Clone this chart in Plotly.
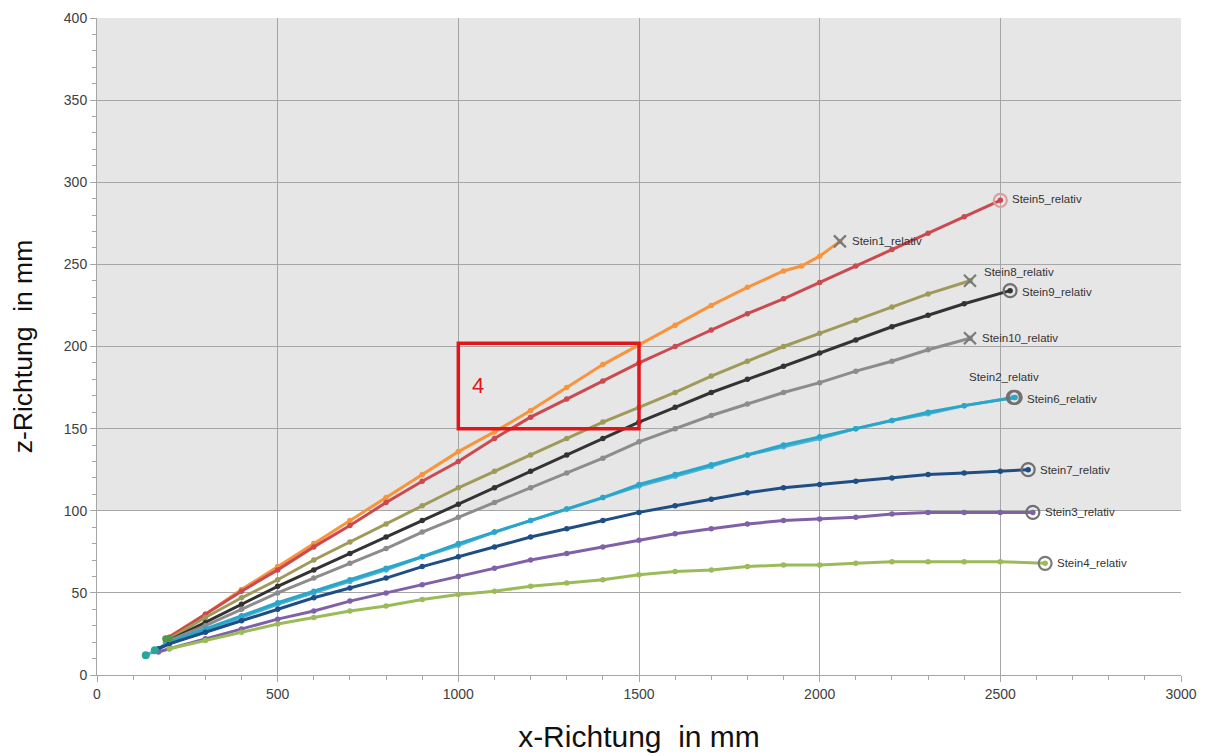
import plotly.graph_objects as go

# ---------------- data ----------------
names = ["Stein1_relativ", "Stein5_relativ", "Stein8_relativ", "Stein9_relativ",
         "Stein10_relativ", "Stein2_relativ", "Stein6_relativ", "Stein7_relativ",
         "Stein3_relativ", "Stein4_relativ"]

stein1_x = [190, 300, 400, 500, 600, 700, 800, 900, 1000, 1100, 1200, 1300, 1400, 1500, 1600, 1700, 1800, 1900, 1950, 2000, 2056]
stein1_y = [22, 37, 52, 66, 80, 94, 108, 122, 136, 148, 161, 175, 189, 201, 213, 225, 236, 246, 249, 255, 264]

stein5_x = [200, 300, 400, 500, 600, 700, 800, 900, 1000, 1100, 1200, 1300, 1400, 1500, 1600, 1700, 1800, 1900, 2000, 2100, 2200, 2300, 2400, 2500]
stein5_y = [23, 37, 51, 64, 78, 91, 105, 118, 130, 144, 157, 168, 179, 190, 200, 210, 220, 229, 239, 249, 259, 269, 279, 289]

stein8_x = [200, 300, 400, 500, 600, 700, 800, 900, 1000, 1100, 1200, 1300, 1400, 1500, 1600, 1700, 1800, 1900, 2000, 2100, 2200, 2300, 2416]
stein8_y = [22, 35, 47, 58, 70, 81, 92, 103, 114, 124, 134, 144, 154, 163, 172, 182, 191, 200, 208, 216, 224, 232, 240]

stein9_x = [190, 300, 400, 500, 600, 700, 800, 900, 1000, 1100, 1200, 1300, 1400, 1500, 1600, 1700, 1800, 1900, 2000, 2100, 2200, 2300, 2400, 2527]
stein9_y = [20, 32, 43, 54, 64, 74, 84, 94, 104, 114, 124, 134, 144, 154, 163, 172, 180, 188, 196, 204, 212, 219, 226, 234]

stein10_x = [190, 300, 400, 500, 600, 700, 800, 900, 1000, 1100, 1200, 1300, 1400, 1500, 1600, 1700, 1800, 1900, 2000, 2100, 2200, 2300, 2416]
stein10_y = [20, 30, 40, 50, 59, 68, 77, 87, 96, 105, 114, 123, 132, 142, 150, 158, 165, 172, 178, 185, 191, 198, 205]

stein2_x = [135, 200, 300, 400, 500, 600, 700, 800, 900, 1000, 1100, 1200, 1300, 1400, 1500, 1600, 1700, 1800, 1900, 2000, 2100, 2200, 2300, 2400, 2536]
stein2_y = [12, 19, 27, 35, 43, 50, 57, 64, 72, 79, 87, 94, 101, 108, 115, 121, 127, 134, 139, 144, 150, 155, 159, 164, 169]

stein6_x = [160, 200, 300, 400, 500, 600, 700, 800, 900, 1000, 1100, 1200, 1300, 1400, 1500, 1600, 1700, 1800, 1900, 2000, 2100, 2200, 2300, 2400, 2541]
stein6_y = [15, 20, 28, 36, 44, 51, 58, 65, 72, 80, 87, 94, 101, 108, 116, 122, 128, 134, 140, 145, 150, 155, 160, 164, 169]

stein7_x = [170, 200, 300, 400, 500, 600, 700, 800, 900, 1000, 1100, 1200, 1300, 1400, 1500, 1600, 1700, 1800, 1900, 2000, 2100, 2200, 2300, 2400, 2500, 2577]
stein7_y = [16, 19, 26, 33, 40, 47, 53, 59, 66, 72, 78, 84, 89, 94, 99, 103, 107, 111, 114, 116, 118, 120, 122, 123, 124, 125]

stein3_x = [170, 200, 300, 400, 500, 600, 700, 800, 900, 1000, 1100, 1200, 1300, 1400, 1500, 1600, 1700, 1800, 1900, 2000, 2100, 2200, 2300, 2400, 2500, 2590]
stein3_y = [14, 16, 22, 28, 34, 39, 45, 50, 55, 60, 65, 70, 74, 78, 82, 86, 89, 92, 94, 95, 96, 98, 99, 99, 99, 99]

stein4_x = [200, 300, 400, 500, 600, 700, 800, 900, 1000, 1100, 1200, 1300, 1400, 1500, 1600, 1700, 1800, 1900, 2000, 2100, 2200, 2300, 2400, 2500, 2624]
stein4_y = [16, 21, 26, 31, 35, 39, 42, 46, 49, 51, 54, 56, 58, 61, 63, 64, 66, 67, 67, 68, 69, 69, 69, 69, 68]

xs = [stein1_x, stein5_x, stein8_x, stein9_x, stein10_x, stein2_x, stein6_x, stein7_x, stein3_x, stein4_x]
ys = [stein1_y, stein5_y, stein8_y, stein9_y, stein10_y, stein2_y, stein6_y, stein7_y, stein3_y, stein4_y]

x_ticks = [0, 500, 1000, 1500, 2000, 2500, 3000]
y_ticks = [0, 50, 100, 150, 200, 250, 300, 350, 400]

box_x = [1000, 1500]
box_y = [150, 202]
box_label = "4"
shaded_y = [100, 400]

# ---------------- styles ----------------
colors = ["#f7943c", "#cc4a4f", "#a09a5a", "#333333", "#8c8c8c",
          "#4eb3d8", "#2ba6c9", "#1f4e85", "#8061a8", "#9bbb59"]
end_symbol = ["x-thin-open", "circle-open", "x-thin-open", "circle-open", "x-thin-open",
              "circle-open", "circle-open", "circle-open", "circle-open", "circle-open"]
end_color = ["#7a7a7a", "#d8a0a0", "#7a7a7a", "#707070", "#7a7a7a",
             "#707070", "#707070", "#707070", "#707070", "#7a7a7a"]
# label offsets in pixels (xshift, yshift)
label_shift = [(10, 0), (10, 1), (12, 9), (10, -1), (10, 0),
               (-46, 20), (10, -2), (10, 0), (10, 0), (10, 0)]

fig = go.Figure()

fig.add_shape(type="rect", xref="x", yref="y", x0=x_ticks[0], x1=x_ticks[-1],
              y0=shaded_y[0], y1=shaded_y[1], fillcolor="#e6e6e6",
              line=dict(width=0), layer="below")

for i in range(len(names)):
    fig.add_trace(go.Scatter(
        x=xs[i], y=ys[i], mode="lines+markers", name=names[i],
        line=dict(color=colors[i], width=3),
        marker=dict(color=colors[i], size=5.5),
        showlegend=False, hoverinfo="skip"))

# start markers drawn from the first points
fig.add_trace(go.Scatter(
    x=[stein2_x[0], stein6_x[0]], y=[stein2_y[0], stein6_y[0]], mode="markers",
    marker=dict(color="#2aa59a", size=8), showlegend=False, hoverinfo="skip"))
fig.add_trace(go.Scatter(
    x=[stein1_x[0], stein8_x[0]], y=[stein1_y[0], stein8_y[0]], mode="markers",
    marker=dict(color="#4a9a4a", size=7), showlegend=False, hoverinfo="skip"))

for i in range(len(names)):
    fig.add_trace(go.Scatter(
        x=[xs[i][-1]], y=[ys[i][-1]], mode="markers",
        marker=dict(symbol=end_symbol[i], size=13 if "circle" in end_symbol[i] else 12,
                    color=end_color[i],
                    line=dict(color=end_color[i], width=2.2)),
        showlegend=False, hoverinfo="skip"))
    fig.add_annotation(x=xs[i][-1], y=ys[i][-1], text=names[i], showarrow=False,
                       xanchor="left", yanchor="middle",
                       xshift=label_shift[i][0], yshift=label_shift[i][1],
                       font=dict(family="Liberation Sans, Arial", size=11.5, color="#333333"))

fig.add_shape(type="rect", xref="x", yref="y", x0=box_x[0], x1=box_x[1],
              y0=box_y[0], y1=box_y[1], line=dict(color="#e0161c", width=3.5),
              fillcolor="rgba(0,0,0,0)", layer="above")
fig.add_annotation(x=box_x[0], y=(box_y[0] + box_y[1]) / 2, text=box_label,
                   showarrow=False, xanchor="left", xshift=12,
                   font=dict(family="Liberation Sans, Arial", size=22, color="#e0161c"))

tickfont = dict(family="Liberation Sans Narrow, Liberation Sans, Arial", size=14, color="#404040")
fig.update_xaxes(range=[x_ticks[0], x_ticks[-1]], tickvals=x_ticks, automargin=False,
                 showgrid=True, gridcolor="#a6a6a6", gridwidth=1,
                 ticks="outside", ticklen=6, tickcolor="#a6a6a6",
                 minor=dict(dtick=100, ticks="outside", ticklen=4, tickcolor="#a6a6a6", showgrid=False),
                 showline=True, linecolor="#a6a6a6", zeroline=False,
                 tickfont=tickfont,
                 title=dict(text="x-Richtung  in mm", font=dict(family="Liberation Sans, Arial", size=30, color="#111111"),
                            standoff=25))
fig.update_yaxes(range=[y_ticks[0], y_ticks[-1]], tickvals=y_ticks, automargin=False,
                 showgrid=True, gridcolor="#a6a6a6", gridwidth=1,
                 ticks="outside", ticklen=6, tickcolor="#a6a6a6",
                 minor=dict(dtick=10, ticks="outside", ticklen=4, tickcolor="#a6a6a6", showgrid=False),
                 showline=True, linecolor="#a6a6a6", zeroline=False,
                 tickfont=tickfont,
                 title=dict(text="z-Richtung  in mm", font=dict(family="Liberation Sans, Arial", size=26.5, color="#111111"),
                            standoff=37))

fig.update_layout(width=1211, height=756, plot_bgcolor="rgba(0,0,0,0)", paper_bgcolor="white",
                  margin=dict(l=89, r=38, t=10, b=89))

fig.write_html("out.html")
